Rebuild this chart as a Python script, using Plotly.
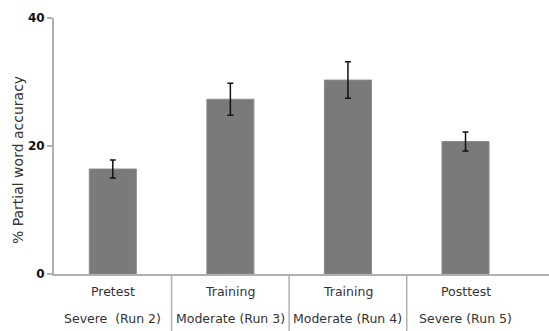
import plotly.graph_objects as go

# Partial word accuracy per test phase
phases = ["Pretest", "Training", "Training", "Posttest"]
conditions = ["Severe\u00a0\u00a0(Run 2)", "Moderate (Run 3)", "Moderate (Run 4)", "Severe (Run 5)"]
accuracy = [16.4, 27.3, 30.3, 20.7]
errors = [1.4, 2.5, 2.85, 1.5]
y_ticks = [0, 20, 40]
y_title = "% Partial word accuracy"

positions = list(range(len(phases)))

fig = go.Figure()
fig.add_trace(go.Bar(
    x=positions,
    y=accuracy,
    width=0.4,
    marker=dict(color="#7a7a7a", line=dict(color="#8a8a8a", width=1)),
    error_y=dict(type="data", array=errors, color="#111111", thickness=1.5, width=3),
    showlegend=False,
))

font_family = "DejaVu Sans"

# category labels, two rows under the axis
for i, (p, c) in enumerate(zip(phases, conditions)):
    fig.add_annotation(x=i, y=-17 / 256, xref="x", yref="paper", text=p,
                       showarrow=False, font=dict(family=font_family, size=12.5, color="#333333"),
                       xanchor="center", yanchor="middle")
    fig.add_annotation(x=i, y=-44 / 256, xref="x", yref="paper", text=c,
                       showarrow=False, font=dict(family=font_family, size=12.5, color="#333333"),
                       xanchor="center", yanchor="middle")

# vertical separators between categories
for i in range(len(phases) - 1):
    fig.add_shape(type="line", xref="x", yref="paper", x0=i + 0.5, x1=i + 0.5,
                  y0=0, y1=-57 / 256, line=dict(color="#b0b0b0", width=1.5))

# rotated y-axis title, sitting a little below the plot's middle
fig.add_annotation(x=-36 / 495, y=0.445, xref="paper", yref="paper", text=y_title,
                   textangle=-90, showarrow=False, xanchor="center", yanchor="middle",
                   font=dict(family=font_family, size=14, color="#333333"))

fig.update_layout(
    width=549, height=331,
    margin=dict(l=54, r=0, t=18, b=57),
    paper_bgcolor="white", plot_bgcolor="white",
    font=dict(family=font_family),
    xaxis=dict(range=[-0.5, 3.71], showticklabels=False, showgrid=False, zeroline=False,
               showline=True, linecolor="#b0b0b0", linewidth=2, ticks=""),
    yaxis=dict(range=[0, 40], tickvals=y_ticks, ticktext=[f"<b>{v}</b>" for v in y_ticks],
               showgrid=False, zeroline=False, showline=True, linecolor="#b0b0b0", linewidth=2,
               ticks="outside", ticklen=5, tickcolor="#b0b0b0", tickwidth=1.5,
               tickfont=dict(family=font_family, size=12, color="#111111")),
)

fig.write_html("out.html")
